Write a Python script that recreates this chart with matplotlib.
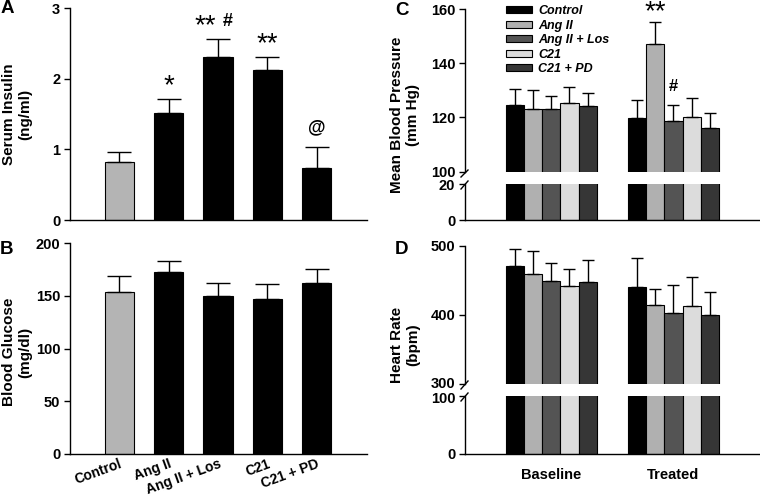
import numpy as np
import matplotlib
matplotlib.use("Agg")
import matplotlib.pyplot as plt
import matplotlib.transforms as mtransforms
from matplotlib.lines import Line2D

plt.rcParams['font.family'] = ['Liberation Sans', 'DejaVu Sans']
plt.rcParams['font.weight'] = 'bold'
plt.rcParams['axes.linewidth'] = 1.0

# ---- data ----
groups = ["Control", "Ang II", "Ang II + Los", "C21", "C21 + PD"]

insulin = [0.82, 1.51, 2.31, 2.12, 0.74]
insulin_err = [0.14, 0.20, 0.25, 0.19, 0.30]
insulin_stars = ["", "*", "**", "**", ""]
insulin_syms = ["", "", "#", "", "@"]

glucose = [154, 172.5, 149.5, 147, 162]
glucose_err = [15, 11, 12.5, 14, 13.5]

periods = ["Baseline", "Treated"]
map_baseline = [124.6, 123.1, 123.1, 125.4, 124.1]
map_baseline_err = [6.0, 7.0, 4.8, 5.9, 4.9]
map_treated = [119.7, 147.2, 118.6, 120.2, 116.0]
map_treated_err = [6.8, 8.0, 6.0, 7.0, 5.8]
map_treated_stars = ["", "**", "", "", ""]
map_treated_syms = ["", "", "#", "", ""]

hr_baseline = [471, 459, 449, 442, 447]
hr_baseline_err = [24, 34, 26, 25, 32]
hr_treated = [441, 414, 403, 412.5, 400]
hr_treated_err = [41, 23, 41, 43, 33]

# ---- style ----
W, H = 760, 497
colors_ab = ['#b4b4b4', 'black', 'black', 'black', 'black']
colors_cd = ['black', '#b0b0b0', '#545454', '#dcdcdc', '#363636']
bw = 0.149


def px_rect(l, t, r, b):
    return [l / W, 1 - b / H, (r - l) / W, (b - t) / H]


def fx(x):
    return x / W


def fy(y):
    return 1 - y / H


def style_ax(ax):
    ax.spines['top'].set_visible(False)
    ax.spines['right'].set_visible(False)
    ax.tick_params(axis='y', length=4, width=1, labelsize=10.5, pad=3)


def put_marks(ax, xs, tops, stars, syms, star_size, sym_size, star_off=6):
    for x, t, st, sy in zip(xs, tops, stars, syms):
        if st and sy:
            ax.annotate(st, (x, t), xytext=(-2, star_off), textcoords='offset pixels',
                        ha='right', va='baseline', fontsize=star_size, fontweight='normal',
                        annotation_clip=False)
            ax.annotate(sy, (x, t), xytext=(5, 13), textcoords='offset pixels',
                        ha='left', va='baseline', fontsize=sym_size, annotation_clip=False)
        elif st:
            ax.annotate(st, (x, t), xytext=(0, star_off), textcoords='offset pixels',
                        ha='center', va='baseline', fontsize=star_size, fontweight='normal',
                        annotation_clip=False)
        elif sy:
            ax.annotate(sy, (x, t), xytext=(0, 14), textcoords='offset pixels',
                        ha='center', va='baseline', fontsize=sym_size, annotation_clip=False)


fig = plt.figure(figsize=(7.6, 4.97), dpi=100)

x = np.arange(len(groups))
zeros = np.zeros(len(groups))

# Panel A
axA = fig.add_axes(px_rect(70, 8.3, 367, 220))
axA.bar(x, insulin, 0.6, color=colors_ab, edgecolor='black', linewidth=0.8,
        yerr=[zeros, insulin_err], capsize=8.5, error_kw=dict(elinewidth=1, capthick=1))
axA.set_xlim(-1.0, 5.02)
axA.set_ylim(0, 3)
axA.set_yticks([0, 1, 2, 3])
axA.set_xticks([])
style_ax(axA)
put_marks(axA, x, np.array(insulin) + np.array(insulin_err), insulin_stars, insulin_syms, 20, 13)

# Panel B
axB = fig.add_axes(px_rect(70, 243.3, 367, 453.7))
axB.bar(x, glucose, 0.6, color=colors_ab, edgecolor='black', linewidth=0.8,
        yerr=[zeros, glucose_err], capsize=8.5, error_kw=dict(elinewidth=1, capthick=1))
axB.set_xlim(-1.0, 5.02)
axB.set_ylim(0, 200)
axB.set_yticks([0, 50, 100, 150, 200])
axB.set_xticks(x)
axB.set_xticklabels(groups, rotation=20, ha='right', rotation_mode='anchor', fontsize=10)
axB.tick_params(axis='x', length=0, pad=2.5)
style_ax(axB)


def broken_panel(ax_top, ax_bot, series, errs, top_lim, bot_lim, top_ticks, bot_ticks):
    for g in range(len(periods)):
        xs = g + (np.arange(5) - 2) * bw
        ax_top.bar(xs, series[g], bw, color=colors_cd, edgecolor='black', linewidth=0.8,
                   yerr=[zeros, errs[g]], capsize=4, error_kw=dict(elinewidth=1, capthick=1),
                   label=groups if g == 0 else None)
        ax_bot.bar(xs, series[g], bw, color=colors_cd, edgecolor='black', linewidth=0.8)
    for ax in (ax_top, ax_bot):
        ax.set_xlim(-0.706, 1.70)
        style_ax(ax)
    ax_top.set_ylim(*top_lim)
    ax_bot.set_ylim(*bot_lim)
    ax_top.set_yticks(top_ticks)
    ax_bot.set_yticks(bot_ticks)
    ax_top.spines['bottom'].set_visible(False)
    ax_top.tick_params(axis='x', bottom=False, labelbottom=False)
    ax_bot.set_xticks([0, 1])
    ax_bot.set_xticklabels(periods, fontsize=10.5)
    ax_bot.tick_params(axis='x', length=0, pad=10)


# Panel C
axC = fig.add_axes(px_rect(465, 9, 759, 171.7))
axC2 = fig.add_axes(px_rect(465, 184.3, 759, 220))
broken_panel(axC, axC2, [map_baseline, map_treated], [map_baseline_err, map_treated_err],
             (100, 160), (0, 20), [100, 120, 140, 160], [0, 20])
axC2.set_xticklabels([])
xt = 1 + (np.arange(5) - 2) * bw
put_marks(axC, xt, np.array(map_treated) + np.array(map_treated_err),
          map_treated_stars, map_treated_syms, 20, 12, star_off=3)
axC.legend(loc='upper left', bbox_to_anchor=(fx(506), fy(5)), bbox_transform=fig.transFigure,
           frameon=False, borderpad=0, borderaxespad=0, handlelength=2.1, handleheight=0.5,
           handletextpad=0.5, labelspacing=0.2,
           prop=dict(style='italic', weight='bold', size=9))

# Panel D
axD = fig.add_axes(px_rect(465, 245.7, 759, 384.3))
axD2 = fig.add_axes(px_rect(465, 395.7, 759, 453.7))
broken_panel(axD, axD2, [hr_baseline, hr_treated], [hr_baseline_err, hr_treated_err],
             (300, 500), (0, 100), [300, 400, 500], [0, 100])

# the two labels at the D break sit very close: nudge them apart a little
up = mtransforms.ScaledTranslation(0, 1.5 / 100, fig.dpi_scale_trans)
down = mtransforms.ScaledTranslation(0, -1.5 / 100, fig.dpi_scale_trans)
lbl = axD.get_yticklabels()[0]
lbl.set_transform(lbl.get_transform() + up)
lbl = axD2.get_yticklabels()[-1]
lbl.set_transform(lbl.get_transform() + down)

# break marks on the y axes
for y0, y1 in [(177, 170), (189, 181), (389, 381), (401, 393)]:
    fig.add_artist(Line2D([fx(461), fx(468)], [fy(y0), fy(y1)], color='black', lw=1))

# y labels
fig.text(fx(17), fy(114), "Serum Insulin\n(ng/ml)", rotation=90, ha='center', va='center',
         fontsize=11, multialignment='center')
fig.text(fx(17), fy(352), "Blood Glucose\n(mg/dl)", rotation=90, ha='center', va='center',
         fontsize=11, multialignment='center')
fig.text(fx(405), fy(115), "Mean Blood Pressure\n(mm Hg)", rotation=90, ha='center', va='center',
         fontsize=11, multialignment='center')
fig.text(fx(405), fy(345), "Heart Rate\n(bpm)", rotation=90, ha='center', va='center',
         fontsize=11, multialignment='center')

# panel letters
for lab, px, py in [("A", 1, 0), ("B", 0, 241), ("C", 395, 2), ("D", 395, 241)]:
    fig.text(fx(px), fy(py), lab, ha='left', va='top', fontsize=13.5)

fig.savefig("out.png", dpi=100)
